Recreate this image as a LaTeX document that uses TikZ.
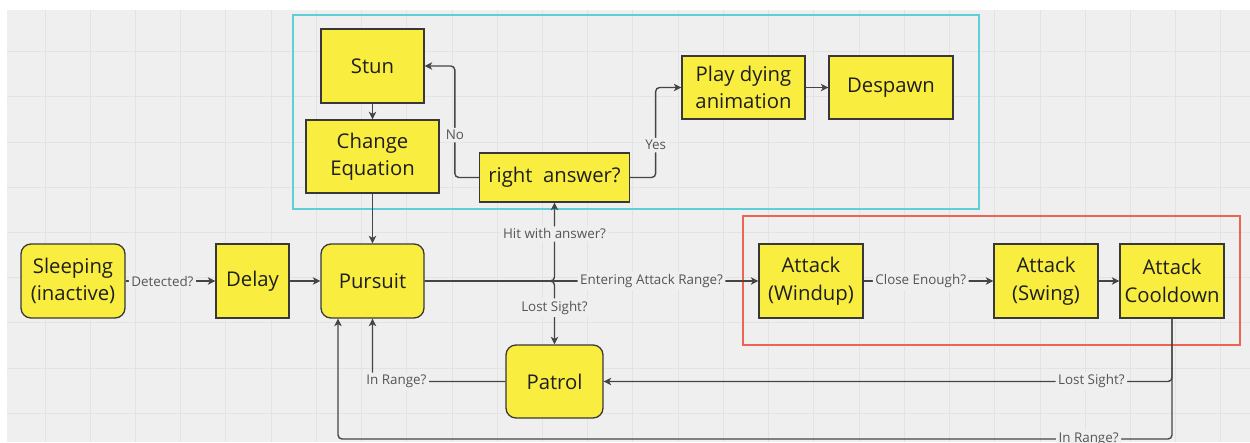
\documentclass[tikz,border=0pt]{standalone}
\usepackage{fontspec}
\setmainfont{Open Sans}
\usetikzlibrary{arrows.meta}
\definecolor{canvas}{HTML}{EFEFEF}
\definecolor{gridgray}{HTML}{E3E3E3}
\definecolor{stateyellow}{HTML}{F9EE40}
\definecolor{edgegray}{HTML}{454545}
\definecolor{labelgray}{HTML}{555555}
\definecolor{framecyan}{HTML}{5ECFD6}
\definecolor{framered}{HTML}{EE6352}

\begin{document}
\begin{tikzpicture}[x=1pt,y=-1pt,
  state/.style={draw=black!78,line width=1.3pt,fill=stateyellow,text=black!88,align=center,
    font=\fontsize{20.3}{27.5}\selectfont,inner sep=0pt},
  soft/.style={state,rounded corners=10pt},
  flow/.style={draw=edgegray,line width=1.4pt,rounded corners=4pt,
    -{Stealth[length=7.5pt,width=7.5pt,inset=2pt]}},
  cond/.style={fill=canvas,text=labelgray,font=\fontsize{13.4}{16}\selectfont,inner sep=2.5pt},
  gridline/.style={gridgray,line width=1pt}]
  \useasboundingbox (0,0) rectangle (1250,442);
  \clip (0,0) rectangle (1250,442);
  \fill[white] (0,0) rectangle (1250,442);
  \fill[canvas] (7,10) rectangle (1250,442);
  \foreach \i in {0,...,26}
    \draw[gridline] ({45+45.23*\i},10) -- ({45+45.23*\i},442);
  \foreach \j in {0,...,8}
    \draw[gridline] (7,{51.7+45.2*\j}) -- (1250,{51.7+45.2*\j});

  \draw[framecyan,line width=1.3pt] (293,15) rectangle (979,209);
  \draw[framered,line width=1.3pt] (743,216) rectangle (1240,345);

  \node[soft,minimum width=104,minimum height=74] (sleeping) at (73,281) {Sleeping\\(inactive)};
  \node[state,minimum width=73,minimum height=74] (delay) at (252.5,281) {Delay};
  \node[soft,minimum width=103,minimum height=74] (pursuit) at (372.5,281) {Pursuit};
  \node[state,minimum width=103,minimum height=74] (stun) at (372.5,66) {Stun};
  \node[state,minimum width=133,minimum height=73] (change) at (372.5,156.5) {Change\\Equation};
  \node[state,minimum width=150,minimum height=49] (answer) at (554.5,177.5) {right\ \ answer?};
  \node[state,minimum width=123,minimum height=63] (dying) at (743.5,87.5) {Play dying\\animation};
  \node[state,minimum width=124,minimum height=63] (despawn) at (891,87.5) {Despawn};
  \node[state,minimum width=104,minimum height=74] (windup) at (811,281) {Attack\\(Windup)};
  \node[state,minimum width=104,minimum height=74] (swing) at (1046,281) {Attack\\(Swing)};
  \node[state,minimum width=104,minimum height=74] (cooldown) at (1172,281) {Attack\\Cooldown};
  \node[soft,minimum width=97,minimum height=73] (patrol) at (554.5,381.5) {Patrol};
  \coordinate (lowturn) at (1172,439);

  \draw[flow] (sleeping) -- node[cond,pos=0.41]{Detected?} (delay);
  \draw[flow] (delay) -- (pursuit);
  \draw[flow] (stun) -- (change);
  \draw[flow] (change) -- (pursuit);
  \draw[flow] (pursuit) -- node[cond,pos=0.68]{Entering Attack Range?} (windup);
  \draw[flow] (pursuit.east) -| node[cond,pos=0.8]{Hit with answer?} (answer.south);
  \draw[flow] (pursuit.east) -| node[cond,pos=0.71]{Lost Sight?} (patrol.north);
  \draw[flow] (answer.west) -- ++(-24,0) |- node[cond,pos=0.19]{No} (stun.east);
  \draw[flow] (answer.east) -- ++(25.5,0) |- node[cond,pos=0.18]{Yes} (dying.west);
  \draw[flow] (dying) -- (despawn);
  \draw[flow] (windup) -- node[cond,pos=0.44]{Close Enough?} (swing);
  \draw[flow] (swing) -- (cooldown);
  \draw[flow] (cooldown.south) |- node[cond,pos=0.571]{Lost Sight?} (patrol.east);
  \draw[flow] (patrol.west) -| node[cond,pos=0.41]{In Range?} (pursuit.south);
  \draw[flow] (cooldown.south) -- (lowturn) -| node[cond,pos=0.05]{In Range?} ([xshift=-34.5]pursuit.south);
\end{tikzpicture}
\end{document}
